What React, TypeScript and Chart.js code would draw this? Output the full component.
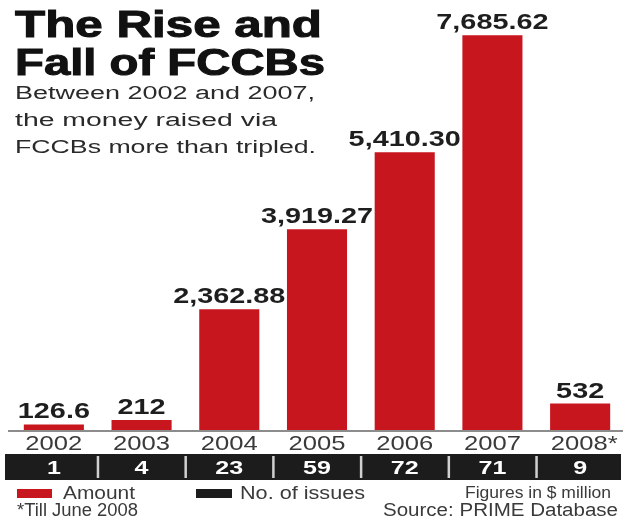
import React, { useEffect, useRef } from 'react';
import { Chart, registerables } from 'chart.js';

Chart.register(...registerables);

// ---- data ----
const years = ['2002', '2003', '2004', '2005', '2006', '2007', '2008*'];
const amounts = [126.6, 212, 2362.88, 3919.27, 5410.3, 7685.62, 532];
const amountLabels = ['126.6', '212', '2,362.88', '3,919.27', '5,410.30', '7,685.62', '532'];
const issues = [1, 4, 23, 59, 72, 71, 9];
const titleLines = ['The Rise and', 'Fall of FCCBs'];
const subtitleLines = ['Between 2002 and 2007,', 'the money raised via', 'FCCBs more than tripled.'];

const RED = '#c8161e';
const BAND = '#1c1c1c';
const FONT = "'Liberation Sans', Arial, Helvetica, sans-serif";

function drawScaled(
  ctx: CanvasRenderingContext2D,
  text: string,
  x: number,
  y: number,
  font: string,
  sx: number,
  align: 'left' | 'center' | 'right',
  color: string,
  stroke = 0
) {
  ctx.save();
  ctx.font = font;
  ctx.textAlign = 'left';
  ctx.textBaseline = 'alphabetic';
  const w = ctx.measureText(text).width * sx;
  const left = align === 'left' ? x : align === 'center' ? x - w / 2 : x - w;
  ctx.translate(left, y);
  ctx.scale(sx, 1);
  ctx.fillStyle = color;
  ctx.fillText(text, 0, 0);
  if (stroke > 0) {
    ctx.strokeStyle = color;
    ctx.lineWidth = stroke;
    ctx.strokeText(text, 0, 0);
  }
  ctx.restore();
}

function drawFit(
  ctx: CanvasRenderingContext2D,
  text: string,
  x: number,
  y: number,
  font: string,
  width: number,
  align: 'left' | 'center' | 'right',
  color: string,
  stroke = 0
) {
  ctx.save();
  ctx.font = font;
  const sx = width / ctx.measureText(text).width;
  ctx.restore();
  drawScaled(ctx, text, x, y, font, sx, align, color, stroke);
}

const decorPlugin = {
  id: 'decor',
  afterDraw(chart: any) {
    const ctx: CanvasRenderingContext2D = chart.ctx;
    const xs = chart.scales.x;
    const ys = chart.scales.y;
    const area = chart.chartArea;
    const y0 = ys.getPixelForValue(0);

    // baseline
    ctx.save();
    ctx.strokeStyle = '#8c8c8c';
    ctx.lineWidth = 2;
    ctx.beginPath();
    ctx.moveTo(area.left - 2, y0);
    ctx.lineTo(area.right - 1, y0);
    ctx.stroke();
    ctx.restore();

    // value labels
    const meta = chart.getDatasetMeta(0);
    meta.data.forEach((el: any, i: number) => {
      drawScaled(ctx, amountLabels[i], el.x, el.y - 6, `bold 22px ${FONT}`, 1.31, 'center', '#1e1e1e');
    });

    // year labels
    years.forEach((yr, i) => {
      const x = xs.getPixelForValue(i);
      drawScaled(ctx, yr, x + (yr.length > 4 ? 4 : 0), y0 + 19, `21px ${FONT}`, 1.22, 'center', '#3a3a3a');
    });

    // black band with issue counts
    const bandTop = y0 + 23;
    const bandH = 26;
    ctx.save();
    ctx.fillStyle = BAND;
    ctx.fillRect(area.left - 5, bandTop, area.right - area.left + 2, bandH);
    ctx.restore();
    for (let i = 0; i < issues.length - 1; i++) {
      const bx = (xs.getPixelForValue(i) + xs.getPixelForValue(i + 1)) / 2;
      ctx.save();
      ctx.fillStyle = '#d0d0d0';
      ctx.fillRect(bx - 1, bandTop + 2, 2.5, bandH - 4);
      ctx.restore();
    }
    issues.forEach((n, i) => {
      const x = xs.getPixelForValue(i);
      drawScaled(ctx, String(n), x, bandTop + 20, `bold 19px ${FONT}`, 1.32, 'center', '#ffffff');
    });

    // legend
    ctx.save();
    ctx.fillStyle = RED;
    ctx.fillRect(17, 489, 35, 9);
    ctx.fillStyle = BAND;
    ctx.fillRect(196, 489, 36, 9);
    ctx.restore();
    drawFit(ctx, 'Amount', 63, 499, `18px ${FONT}`, 72, 'left', '#3a3a3a');
    drawFit(ctx, 'No. of issues', 240, 499, `18px ${FONT}`, 125, 'left', '#3a3a3a');
    drawFit(ctx, 'Figures in $ million', 611, 498, `16px ${FONT}`, 146, 'right', '#3a3a3a');
    drawFit(ctx, '*Till June 2008', 17, 516, `18px ${FONT}`, 121, 'left', '#3a3a3a');
    drawFit(ctx, 'Source: PRIME Database', 618, 516, `18px ${FONT}`, 235, 'right', '#3a3a3a');

    // title
    drawFit(ctx, titleLines[0], 15, 37, `bold 37px ${FONT}`, 307, 'left', '#111111', 1);
    drawFit(ctx, titleLines[1], 15, 75, `bold 37px ${FONT}`, 310, 'left', '#111111', 1);
    // subtitle
    const subW = [300, 262, 301];
    const subY = [99, 126, 153];
    subtitleLines.forEach((t, i) => {
      drawFit(ctx, t, 15, subY[i], `18px ${FONT}`, subW[i], 'left', '#2a2a2a');
    });
  },
};

export default function App() {
  const ref = useRef<HTMLCanvasElement | null>(null);

  useEffect(() => {
    if (!ref.current) return;
    const chart = new Chart(ref.current, {
      type: 'bar',
      data: {
        labels: years,
        datasets: [
          {
            label: 'Amount',
            data: amounts,
            backgroundColor: RED,
            borderWidth: 0,
            categoryPercentage: 1,
            barPercentage: 0.685,
          },
        ],
      },
      options: {
        responsive: false,
        animation: false,
        devicePixelRatio: 1,
        layout: { padding: { left: 10, right: 4, top: 19, bottom: 89 } },
        plugins: {
          legend: { display: false },
          title: { display: false },
          tooltip: { enabled: false },
        },
        scales: {
          x: { display: false },
          y: { display: false, min: 0, max: 8000 },
        },
      },
      plugins: [decorPlugin],
    });
    return () => chart.destroy();
  }, []);

  return (
    <div style={{ position: 'fixed', left: 0, top: 0, width: 628, height: 520, background: '#ffffff' }}>
      <canvas ref={ref} width={628} height={520} style={{ width: 628, height: 520, display: 'block' }} />
    </div>
  );
}
